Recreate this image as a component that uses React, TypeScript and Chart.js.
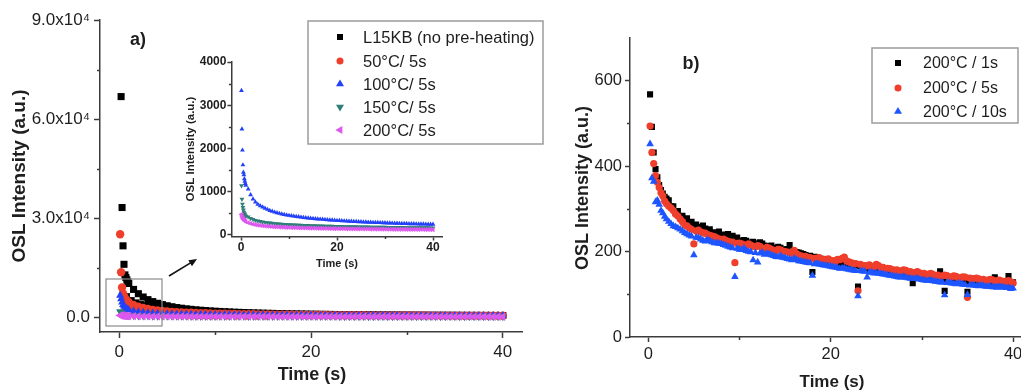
import React, { useEffect, useRef } from 'react';
import { Chart, registerables } from 'chart.js';

Chart.register(...registerables);

const FONT = '"Liberation Sans", Arial, Helvetica, sans-serif';
const AXIS = '#3c3c3c';
const TEXT = '#1e1e1e';

// ---------- Panel a: time channels (s) ----------
const timesA = [
  0.1, 0.2, 0.3, 0.4, 0.5, 0.6, 0.7, 0.8, 0.9, 1,
  1.5, 2, 2.5, 3, 3.5, 4, 4.5, 5, 5.5, 6,
  6.5, 7, 7.5, 8, 8.5, 9, 9.5, 10, 10.5, 11,
  11.5, 12, 12.5, 13, 13.5, 14, 14.5, 15, 15.5, 16,
  16.5, 17, 17.5, 18, 18.5, 19, 19.5, 20, 20.5, 21,
  21.5, 22, 22.5, 23, 23.5, 24, 24.5, 25, 25.5, 26,
  26.5, 27, 27.5, 28, 28.5, 29, 29.5, 30, 30.5, 31,
  31.5, 32, 32.5, 33, 33.5, 34, 34.5, 35, 35.5, 36,
  36.5, 37, 37.5, 38, 38.5, 39, 39.5, 40,
];

// Panel a main plot series (OSL intensity, a.u.)
const aL15KB = [
  null, 66800, 33200, 21600, 16000, 12800, 12000, 11300, 10700, 10200,
  8400, 7100, 6100, 5300, 4700, 4200, 3800, 3450, 3150, 2900,
  2700, 2520, 2360, 2220, 2100, 1990, 1890, 1800, 1720, 1645,
  1575, 1510, 1450, 1395, 1345, 1298, 1254, 1212, 1173, 1136,
  1101, 1068, 1037, 1008, 980, 954, 929, 905, 883, 862,
  842, 823, 805, 788, 772, 757, 742, 728, 715, 702,
  690, 678, 667, 656, 646, 636, 626, 617, 608, 599,
  591, 583, 575, 568, 561, 554, 547, 541, 535, 529,
  523, 517, 512, 507, 502, 497, 492, 487,
];
const a50C = [
  25100, 13600, 9000, 7200, 6300, 5700, 5300, 5000, 4700, 4450,
  3700, 3150, 2750, 2450, 2200, 2000, 1850, 1720, 1610, 1520,
  1440, 1370, 1310, 1255, 1205, 1160, 1118, 1080, 1045, 1012,
  982, 953, 926, 901, 877, 855, 834, 814, 795, 777,
  760, 744, 729, 714, 700, 687, 674, 662, 650, 639,
  628, 618, 608, 598, 589, 580, 572, 564, 556, 548,
  541, 534, 527, 520, 514, 508, 502, 496, 490, 485,
  480, 475, 470, 465, 460, 456, 452, 448, 444, 440,
  436, 432, 428, 425, 422, 418, 415, 412,
];
const a100C = [
  6600, 5500, 4500, 3800, 3300, 2950, 2700, 2500, 2350, 2220,
  1820, 1580, 1420, 1300, 1210, 1140, 1080, 1030, 990, 955,
  925, 898, 874, 852, 832, 814, 797, 781, 766, 752,
  739, 727, 715, 704, 693, 683, 673, 664, 655, 647,
  639, 631, 624, 617, 610, 603, 597, 591, 585, 579,
  573, 568, 563, 558, 553, 548, 543, 539, 535, 531,
  527, 523, 519, 515, 511, 508, 505, 502, 499, 496,
  493, 490, 487, 484, 481, 478, 476, 474, 472, 470,
  468, 466, 464, 462, 460, 458, 456, 454,
];
const a150C = [
  1700, 1250, 1000, 850, 740, 660, 600, 560, 530, 500,
  440, 400, 372, 350, 333, 318, 306, 296, 287, 279,
  272, 266, 260, 255, 250, 246, 242, 238, 235, 232,
  229, 226, 223, 221, 218, 216, 214, 212, 210, 208,
  206, 204, 202, 201, 199, 198, 196, 195, 193, 192,
  190, 189, 188, 187, 185, 184, 183, 182, 181, 180,
  179, 178, 177, 176, 175, 174, 173, 172, 171, 170,
  169, 169, 168, 167, 166, 166, 165, 164, 163, 163,
  162, 161, 161, 160, 159, 159, 158, 158,
];
const a200C = [
  520, 470, 430, 400, 378, 360, 346, 334, 324, 315,
  288, 268, 252, 240, 230, 222, 215, 209, 204, 199,
  195, 191, 188, 185, 182, 179, 177, 175, 173, 171,
  169, 167, 166, 164, 163, 161, 160, 159, 158, 157,
  155, 154, 153, 152, 151, 150, 149, 149, 148, 147,
  146, 145, 145, 144, 143, 143, 142, 141, 141, 140,
  140, 139, 138, 138, 137, 137, 136, 136, 135, 135,
  134, 134, 133, 133, 132, 132, 131, 131, 131, 130,
  130, 129, 129, 129, 128, 128, 128, 127,
];

// Lower-scatter readings of the dense black / red bands (main plot)
const timesAFill = [
  0.75, 1.25, 1.75, 2.25, 2.75, 3.25, 3.75, 4.25, 4.75, 5.25,
  5.75, 6.25, 6.75, 7.25, 7.75, 8.25, 8.75, 9.25, 9.75, 10.25,
  11.25, 12.25, 13.25, 14.25, 15.25,
];
const aL15KBFill = [
  6200, 5000, 4300, 3800, 3400, 3050, 2750, 2500, 2300, 2120,
  1960, 1830, 1710, 1610, 1520, 1440, 1370, 1300, 1240, 1190,
  1100, 1020, 950, 890, 840,
];
const a50CFill = [
  3200, 2500, 2100, 1800, 1580, 1420, 1290, 1180, 1090, 1010,
  950, 890, 840, 800, 760, 720, 690, 660, 635, 610,
  570, 535, 505, 480, 455,
];

// Panel a inset series
const inset100C = [
  3340, 2450, 1960, 1620, 1450, 1390, 1300, 1240, 1190, 1150,
  1060, 930, 830, 760, 710, 675, 645, 615, 590, 565,
  545, 527, 512, 498, 485, 473, 462, 452, 443, 434,
  426, 418, 411, 404, 398, 392, 386, 380, 375, 370,
  365, 360, 355, 351, 347, 343, 339, 335, 331, 327,
  324, 321, 318, 315, 312, 309, 306, 303, 300, 298,
  295, 293, 290, 288, 286, 284, 281, 279, 277, 275,
  273, 271, 269, 267, 266, 264, 262, 260, 259, 257,
  255, 254, 252, 251, 249, 248, 246, 245,
];
const inset150C = [
  1140, 830, 715, 640, 580, 530, 495, 468, 447, 430,
  420, 385, 360, 340, 325, 312, 302, 293, 285, 278,
  271, 265, 260, 255, 251, 247, 243, 240, 237, 234,
  231, 228, 226, 223, 221, 219, 217, 215, 213, 211,
  209, 208, 206, 205, 203, 202, 200, 199, 198, 196,
  195, 194, 193, 192, 191, 190, 189, 188, 187, 186,
  185, 184, 183, 182, 181, 181, 180, 179, 178, 177,
  177, 176, 175, 174, 174, 173, 172, 172, 171, 170,
  170, 169, 168, 168, 167, 167, 166, 165,
];
const inset200C = [
  480, 440, 410, 385, 365, 350, 338, 328, 318, 310,
  285, 265, 250, 238, 228, 220, 213, 207, 202, 197,
  193, 189, 186, 183, 180, 177, 175, 173, 171, 169,
  167, 165, 164, 162, 161, 159, 158, 157, 156, 154,
  153, 152, 151, 150, 149, 148, 147, 147, 146, 145,
  144, 143, 143, 142, 141, 141, 140, 139, 139, 138,
  138, 137, 137, 136, 135, 135, 134, 134, 133, 133,
  132, 132, 131, 131, 130, 130, 130, 129, 129, 128,
  128, 128, 127, 127, 126, 126, 126, 125,
];

// ---------- Panel b ----------
const timesB = [
  0.2, 0.4, 0.6, 0.8, 1, 1.2, 1.4, 1.6, 1.8, 2,
  2.5, 3, 3.5, 4, 4.5, 5, 5.5, 6, 6.5, 7,
  7.5, 8, 8.5, 9, 9.5, 10, 10.5, 11, 11.5, 12,
  12.5, 13, 13.5, 14, 14.5, 15, 15.5, 16, 16.5, 17,
  17.5, 18, 18.5, 19, 19.5, 20, 20.5, 21, 21.5, 22,
  22.5, 23, 23.5, 24, 24.5, 25, 25.5, 26, 26.5, 27,
  27.5, 28, 28.5, 29, 29.5, 30, 30.5, 31, 31.5, 32,
  32.5, 33, 33.5, 34, 34.5, 35, 35.5, 36, 36.5, 37,
  37.5, 38, 38.5, 39, 39.5, 40,
];
const b1s = [
  568, 492, 432, 393, 374, 356, 344, 336, 328, 324,
  306, 290, 281, 271, 265, 257, 251, 261, 247, 242,
  239, 236, 237, 233, 229, 226, 227, 221, 223, 218,
  219, 212, 214, 208, 209, 205, 215, 201, 198, 194,
  189, 152, 186, 183, 179, 177, 175, 171, 173, 167,
  169, 118, 164, 161, 159, 157, 159, 154, 150, 152,
  147, 150, 145, 126, 142, 145, 139, 141, 137, 154,
  108, 140, 136, 134, 131, 106, 133, 129, 131, 127,
  130, 140, 126, 129, 143, 128,
];
const b5s = [
  494, 432, 406, 378, 362, 350, 338, 330, 318, 312,
  302, 288, 276, 262, 255, 218, 250, 244, 240, 236,
  232, 228, 226, 222, 174, 220, 216, 218, 212, 214,
  208, 210, 205, 202, 204, 200, 198, 203, 192, 188,
  186, 183, 185, 180, 182, 178, 176, 181, 187, 176,
  171, 108, 168, 166, 164, 170, 162, 158, 160, 156,
  154, 157, 152, 150, 153, 148, 146, 149, 144, 142,
  145, 140, 143, 138, 141, 93, 136, 138, 134, 132,
  135, 131, 133, 130, 132, 126,
];
const b10s = [
  452, 372, 364, 316, 320, 310, 296, 290, 282, 276,
  265, 258, 252, 244, 238, 192, 232, 226, 228, 222,
  220, 218, 214, 210, 141, 205, 208, 200, 180, 175,
  198, 195, 192, 188, 190, 185, 182, 184, 178, 176,
  174, 144, 172, 169, 167, 165, 163, 160, 162, 158,
  156, 96, 154, 140, 152, 150, 148, 146, 144, 142,
  140, 141, 138, 136, 137, 134, 132, 133, 130, 128,
  98, 127, 125, 126, 123, 99, 122, 120, 121, 118,
  119, 117, 118, 116, 115, 114,
];

// In-between channels of panel b (dense cluster)
const timesBFill = [
  2.25, 2.75, 3.25, 3.75, 4.25, 4.75, 5.25, 5.75, 6.25, 6.75,
  7.25, 7.75, 8.25, 8.75, 9.25, 9.75, 10.25, 10.75, 11.25, 11.75,
  12.25, 12.75, 13.25, 13.75, 14.25, 14.75, 15.25, 15.75, 16.25, 16.75,
  17.25, 17.75, 18.25, 18.75, 19.25, 19.75, 20.25, 20.75, 21.25, 21.75,
  22.25, 22.75, 23.25, 23.75, 24.25, 24.75, 25.25, 25.75, 26.25, 26.75,
  27.25, 27.75, 28.25, 28.75, 29.25, 29.75, 30.25, 30.75, 31.25, 31.75,
  32.25, 32.75, 33.25, 33.75, 34.25, 34.75, 35.25, 35.75, 36.25, 36.75,
  37.25, 37.75, 38.25, 38.75, 39.25, 39.75,
];
const b1sFill = [
  320, 306, 295, 284, 278, 270, 263, 258, 254, 252,
  245, 247, 240, 241, 237, 233, 224, 225, 220, 219,
  222, 214, 212, 209, 211, 204, 206, 200, 199, 196,
  192, 190, 188, 184, 181, 180, 176, 174, 172, 170,
  166, 168, 165, 162, 160, 158, 156, 155, 153, 151,
  149, 148, 147, 144, 143, 141, 140, 142, 138, 139,
  136, 137, 135, 133, 134, 132, 130, 131, 129, 128,
  129, 127, 128, 126, 127, 125,
];
const b5sFill = [
  306, 296, 283, 270, 260, 252, 248, 246, 243, 238,
  235, 230, 229, 224, 222, 219, 218, 214, 215, 211,
  212, 207, 208, 203, 205, 201, 199, 196, 195, 190,
  189, 186, 184, 186, 181, 183, 179, 182, 184, 178,
  174, 172, 170, 167, 169, 165, 167, 163, 161, 158,
  157, 155, 156, 153, 151, 150, 149, 147, 146, 145,
  143, 144, 141, 142, 139, 140, 138, 137, 136, 135,
  133, 134, 132, 131, 130, 129,
];
const b10sFill = [
  270, 260, 255, 248, 241, 236, 233, 229, 224, 225,
  220, 219, 216, 212, 208, 207, 204, 202, 199, 197,
  196, 193, 194, 190, 187, 186, 183, 180, 181, 177,
  175, 173, 171, 170, 168, 166, 164, 162, 161, 159,
  157, 155, 155, 153, 151, 149, 149, 147, 145, 143,
  141, 140, 139, 137, 136, 135, 133, 132, 131, 129,
  128, 127, 126, 124, 125, 122, 121, 121, 119, 120,
  118, 117, 116, 117, 115, 113,
];

// ---------- Labels and ticks ----------
const legendA = ['L15KB (no pre-heating)', '50°C/ 5s', '100°C/ 5s', '150°C/ 5s', '200°C/ 5s'];
const legendB = ['200°C / 1s', '200°C / 5s', '200°C / 10s'];

const xTicks = [0, 20, 40];
const xTickLabels = ['0', '20', '40'];
const xMinor = [10, 30];

const yTicksA = [0, 30000, 60000, 90000];
const yTickLabelsA = ['0.0', '3.0x10⁴', '6.0x10⁴', '9.0x10⁴'];
const yMinorA = [15000, 45000, 75000];

const yTicksInset = [0, 1000, 2000, 3000, 4000];
const yTickLabelsInset = ['0', '1000', '2000', '3000', '4000'];
const yMinorInset = [500, 1500, 2500, 3500];

const yTicksB = [0, 200, 400, 600];
const yTickLabelsB = ['0', '200', '400', '600'];
const yMinorB = [100, 300, 500];

// ---------- Marker styles ----------
type Kind = 'square' | 'circle' | 'up' | 'down' | 'left';
type Mk = { color: string; kind: Kind; radius: number };

const COL = {
  black: '#000000',
  red: '#ef3e2b',
  blueA: '#2341f8',
  teal: '#2f7e77',
  magenta: '#dc58ef',
  blueB: '#1d55ff',
};

function styleOf(kind: Kind): { style: string; rotation: number } {
  switch (kind) {
    case 'square': return { style: 'rect', rotation: 0 };
    case 'circle': return { style: 'circle', rotation: 0 };
    case 'up': return { style: 'triangle', rotation: 0 };
    case 'down': return { style: 'triangle', rotation: 180 };
    default: return { style: 'triangle', rotation: 270 };
  }
}

type Part = [number[], (number | null)[]];

function points(parts: Part[]) {
  const out: { x: number; y: number }[] = [];
  for (const [ts, vs] of parts) {
    ts.forEach((t, i) => {
      const v = vs[i];
      if (v !== null && v !== undefined) out.push({ x: t, y: v });
    });
  }
  return out;
}

function ds(label: string, parts: Part[], mk: Mk, order: number) {
  const s = styleOf(mk.kind);
  return {
    label,
    data: points(parts),
    order,
    showLine: false,
    pointStyle: s.style,
    pointRotation: s.rotation,
    pointRadius: mk.radius,
    pointHoverRadius: mk.radius,
    pointBackgroundColor: mk.color,
    pointBorderColor: mk.color,
    pointBorderWidth: 0,
    backgroundColor: mk.color,
    borderColor: mk.color,
  };
}

function axis(o: {
  min: number; max: number; ticks: number[]; labels: string[];
  font: any; tickLen: number; pad: number; fit: (s: any) => void;
}) {
  return {
    type: 'linear',
    min: o.min,
    max: o.max,
    afterBuildTicks: (s: any) => { s.ticks = o.ticks.map((v) => ({ value: v })); },
    ticks: {
      callback: (v: any) => {
        const i = o.ticks.indexOf(Number(v));
        return i >= 0 ? o.labels[i] : '';
      },
      font: o.font,
      color: TEXT,
      padding: o.pad,
      maxRotation: 0,
      minRotation: 0,
      autoSkip: false,
    },
    grid: {
      drawOnChartArea: false,
      drawTicks: true,
      tickLength: o.tickLen,
      tickColor: AXIS,
      tickWidth: 1.5,
      color: AXIS,
    },
    border: { display: true, color: AXIS, width: 1.5 },
    afterFit: o.fit,
  };
}

function drawMarker(ctx: CanvasRenderingContext2D, kind: Kind, x: number, y: number, s: number, color: string) {
  ctx.fillStyle = color;
  ctx.beginPath();
  const h = 0.866 * s;
  if (kind === 'square') ctx.rect(x - s / 2, y - s / 2, s, s);
  else if (kind === 'circle') ctx.arc(x, y, s / 2, 0, Math.PI * 2);
  else if (kind === 'up') {
    ctx.moveTo(x, y - (2 * h) / 3); ctx.lineTo(x + s / 2, y + h / 3); ctx.lineTo(x - s / 2, y + h / 3);
  } else if (kind === 'down') {
    ctx.moveTo(x, y + (2 * h) / 3); ctx.lineTo(x + s / 2, y - h / 3); ctx.lineTo(x - s / 2, y - h / 3);
  } else {
    ctx.moveTo(x - (2 * h) / 3, y); ctx.lineTo(x + h / 3, y - s / 2); ctx.lineTo(x + h / 3, y + s / 2);
  }
  ctx.closePath();
  ctx.fill();
}

type TextItem = { t: string; x: number; y: number; font: string; rot?: boolean };
type LegendSpec = {
  x: number; y: number; w: number; h: number; markerX: number; textX: number; font: string;
  items: { label: string; kind: Kind; color: string; size: number; y: number }[];
};

function overlay(id: string, cfg: {
  texts: TextItem[]; xMinor: number[]; yMinor: number[]; minorLen: number;
  legend?: LegendSpec; extra?: (ctx: CanvasRenderingContext2D) => void;
}) {
  return {
    id,
    afterDraw(chart: any) {
      const { ctx, chartArea: a, scales } = chart;
      ctx.save();
      ctx.strokeStyle = AXIS;
      ctx.lineWidth = 1.5;
      for (const v of cfg.xMinor) {
        const px = Math.round(scales.x.getPixelForValue(v)) + 0.5;
        ctx.beginPath(); ctx.moveTo(px, a.bottom); ctx.lineTo(px, a.bottom + cfg.minorLen); ctx.stroke();
      }
      for (const v of cfg.yMinor) {
        const py = Math.round(scales.y.getPixelForValue(v)) + 0.5;
        ctx.beginPath(); ctx.moveTo(a.left, py); ctx.lineTo(a.left - cfg.minorLen, py); ctx.stroke();
      }
      ctx.fillStyle = TEXT;
      ctx.textAlign = 'center';
      ctx.textBaseline = 'middle';
      for (const t of cfg.texts) {
        ctx.font = t.font;
        if (t.rot) {
          ctx.save(); ctx.translate(t.x, t.y); ctx.rotate(-Math.PI / 2); ctx.fillText(t.t, 0, 0); ctx.restore();
        } else ctx.fillText(t.t, t.x, t.y);
      }
      if (cfg.extra) cfg.extra(ctx);
      if (cfg.legend) {
        const L = cfg.legend;
        ctx.fillStyle = '#ffffff';
        ctx.fillRect(L.x, L.y, L.w, L.h);
        ctx.strokeStyle = '#9c9c9c';
        ctx.lineWidth = 1.5;
        ctx.strokeRect(L.x, L.y, L.w, L.h);
        ctx.font = L.font;
        ctx.textAlign = 'left';
        ctx.textBaseline = 'middle';
        for (const it of L.items) {
          drawMarker(ctx, it.kind, L.markerX, it.y, it.size, it.color);
          ctx.fillStyle = TEXT;
          ctx.fillText(it.label, L.textX, it.y + 1);
        }
      }
      ctx.restore();
    },
  };
}

const mkA: Mk[] = [
  { color: COL.black, kind: 'square', radius: 5 },
  { color: COL.red, kind: 'circle', radius: 4.2 },
  { color: COL.blueA, kind: 'up', radius: 4.6 },
  { color: COL.teal, kind: 'down', radius: 4.6 },
  { color: COL.magenta, kind: 'left', radius: 4.8 },
];
const mkInset: Mk[] = [
  { color: COL.blueA, kind: 'up', radius: 2.8 },
  { color: COL.teal, kind: 'down', radius: 2.8 },
  { color: COL.magenta, kind: 'left', radius: 3 },
];
const mkB: Mk[] = [
  { color: COL.black, kind: 'square', radius: 4.3 },
  { color: COL.red, kind: 'circle', radius: 3.6 },
  { color: COL.blueB, kind: 'up', radius: 4.4 },
];

function mainConfig(): any {
  const parts: Part[][] = [
    [[timesA, aL15KB], [timesAFill, aL15KBFill]],
    [[timesA, a50C], [timesAFill, a50CFill]],
    [[timesA, a100C]],
    [[timesA, a150C]],
    [[timesA, a200C]],
  ];
  const tickFont = { family: FONT, size: 17 };
  return {
    type: 'scatter',
    data: { datasets: parts.map((p, i) => ds(legendA[i], p, mkA[i], 10 - i)) },
    options: {
      responsive: false,
      animation: false,
      events: [],
      layout: { padding: { left: 0, right: 38, top: 20, bottom: 0 } },
      plugins: { legend: { display: false }, tooltip: { enabled: false } },
      scales: {
        x: axis({ min: -2, max: 42, ticks: xTicks, labels: xTickLabels, font: tickFont, tickLen: 6, pad: 4, fit: (s) => { s.height = 59; } }),
        y: axis({ min: -4500, max: 90000, ticks: yTicksA, labels: yTickLabelsA, font: tickFont, tickLen: 6, pad: 4, fit: (s) => { s.width = 100; } }),
      },
    },
    plugins: [overlay('overlayA', {
      xMinor, yMinor: yMinorA, minorLen: 3,
      texts: [
        { t: 'OSL Intensity (a.u.)', x: 20, y: 176, font: `bold 19px ${FONT}`, rot: true },
        { t: 'Time (s)', x: 312, y: 375, font: `bold 18px ${FONT}` },
        { t: 'a)', x: 138, y: 40, font: `bold 18px ${FONT}` },
      ],
      extra: (ctx) => {
        ctx.strokeStyle = '#8a8a8a';
        ctx.lineWidth = 1.2;
        ctx.strokeRect(106, 279, 56, 47);
        const x1 = 169, y1 = 276, x2 = 197, y2 = 259;
        ctx.strokeStyle = '#111';
        ctx.lineWidth = 1.6;
        ctx.beginPath(); ctx.moveTo(x1, y1); ctx.lineTo(x2 - 4, y2 + 2.4); ctx.stroke();
        const ang = Math.atan2(y2 - y1, x2 - x1);
        ctx.fillStyle = '#111';
        ctx.beginPath();
        ctx.moveTo(x2, y2);
        ctx.lineTo(x2 - 8 * Math.cos(ang) + 3.5 * Math.sin(ang), y2 - 8 * Math.sin(ang) - 3.5 * Math.cos(ang));
        ctx.lineTo(x2 - 8 * Math.cos(ang) - 3.5 * Math.sin(ang), y2 - 8 * Math.sin(ang) + 3.5 * Math.cos(ang));
        ctx.closePath(); ctx.fill();
      },
      legend: {
        x: 308, y: 21, w: 235, h: 123, markerX: 340, textX: 363, font: `16.5px ${FONT}`,
        items: [
          { label: legendA[0], kind: 'square', color: COL.black, size: 6, y: 37 },
          { label: legendA[1], kind: 'circle', color: COL.red, size: 7, y: 61 },
          { label: legendA[2], kind: 'up', color: COL.blueA, size: 8, y: 84 },
          { label: legendA[3], kind: 'down', color: COL.teal, size: 8, y: 107 },
          { label: legendA[4], kind: 'left', color: COL.magenta, size: 8, y: 130 },
        ],
      },
    })],
  };
}

function insetConfig(): any {
  const series = [inset100C, inset150C, inset200C];
  const tickFont = { family: FONT, size: 12, weight: 'bold' };
  return {
    type: 'scatter',
    data: { datasets: series.map((s, i) => ds(legendA[i + 2], [[timesA, s]], mkInset[i], 10 - i)) },
    options: {
      responsive: false,
      animation: false,
      events: [],
      layout: { padding: { left: 0, right: 17.4, top: 32, bottom: 0 } },
      plugins: { legend: { display: false }, tooltip: { enabled: false } },
      scales: {
        x: axis({ min: -2, max: 42, ticks: xTicks, labels: xTickLabels, font: tickFont, tickLen: 4, pad: 0, fit: (s) => { s.height = 43.5; } }),
        y: axis({ min: -35, max: 4000, ticks: yTicksInset, labels: yTickLabelsInset, font: tickFont, tickLen: 4, pad: 1, fit: (s) => { s.width = 71.4; } }),
      },
    },
    plugins: [overlay('overlayInset', {
      xMinor, yMinor: yMinorInset, minorLen: 2.5,
      texts: [
        { t: 'OSL Intensity (a.u.)', x: 31, y: 119, font: `bold 11.5px ${FONT}`, rot: true },
        { t: 'Time (s)', x: 177, y: 234, font: `bold 11px ${FONT}` },
      ],
    })],
  };
}

function bConfig(): any {
  const parts: Part[][] = [
    [[timesB, b1s], [timesBFill, b1sFill]],
    [[timesB, b5s], [timesBFill, b5sFill]],
    [[timesB, b10s], [timesBFill, b10sFill]],
  ];
  const tickFont = { family: FONT, size: 16.5 };
  return {
    type: 'scatter',
    data: { datasets: parts.map((p, i) => ds(legendB[i], p, mkB[i], 10 - i)) },
    options: {
      responsive: false,
      animation: false,
      events: [],
      layout: { padding: { left: 0, right: 18.7, top: 38, bottom: 0 } },
      plugins: { legend: { display: false }, tooltip: { enabled: false } },
      scales: {
        x: axis({ min: -2, max: 42, ticks: xTicks, labels: xTickLabels, font: tickFont, tickLen: 5, pad: 3, fit: (s) => { s.height = 54; } }),
        y: axis({ min: 0, max: 700, ticks: yTicksB, labels: yTickLabelsB, font: tickFont, tickLen: 5, pad: 3, fit: (s) => { s.width = 110; } }),
      },
    },
    plugins: [overlay('overlayB', {
      xMinor, yMinor: yMinorB, minorLen: 3,
      texts: [
        { t: 'OSL Intensity (a.u.)', x: 63, y: 188, font: `bold 18px ${FONT}`, rot: true },
        { t: 'Time (s)', x: 312, y: 382, font: `bold 17px ${FONT}` },
        { t: 'b)', x: 171, y: 64, font: `bold 18px ${FONT}` },
      ],
      legend: {
        x: 352, y: 48, w: 146, h: 75, markerX: 378, textX: 403, font: `16px ${FONT}`,
        items: [
          { label: legendB[0], kind: 'square', color: COL.black, size: 6, y: 63 },
          { label: legendB[1], kind: 'circle', color: COL.red, size: 7, y: 88 },
          { label: legendB[2], kind: 'up', color: COL.blueB, size: 8, y: 111.5 },
        ],
      },
    })],
  };
}

export default function App() {
  const mainRef = useRef<HTMLCanvasElement>(null);
  const insetRef = useRef<HTMLCanvasElement>(null);
  const bRef = useRef<HTMLCanvasElement>(null);

  useEffect(() => {
    const charts: Chart[] = [];
    if (mainRef.current) charts.push(new Chart(mainRef.current, mainConfig()));
    if (bRef.current) charts.push(new Chart(bRef.current, bConfig()));
    if (insetRef.current) charts.push(new Chart(insetRef.current, insetConfig()));
    return () => charts.forEach((c) => c.destroy());
  }, []);

  return (
    <div style={{ position: 'fixed', left: 0, top: 0, width: 1021, height: 391, overflow: 'hidden', background: '#ffffff' }}>
      <canvas ref={mainRef} width={560} height={391} style={{ position: 'absolute', left: 0, top: 0 }} />
      <canvas ref={bRef} width={530} height={391} style={{ position: 'absolute', left: 520, top: 0 }} />
      <canvas ref={insetRef} width={300} height={250} style={{ position: 'absolute', left: 160, top: 30 }} />
    </div>
  );
}
